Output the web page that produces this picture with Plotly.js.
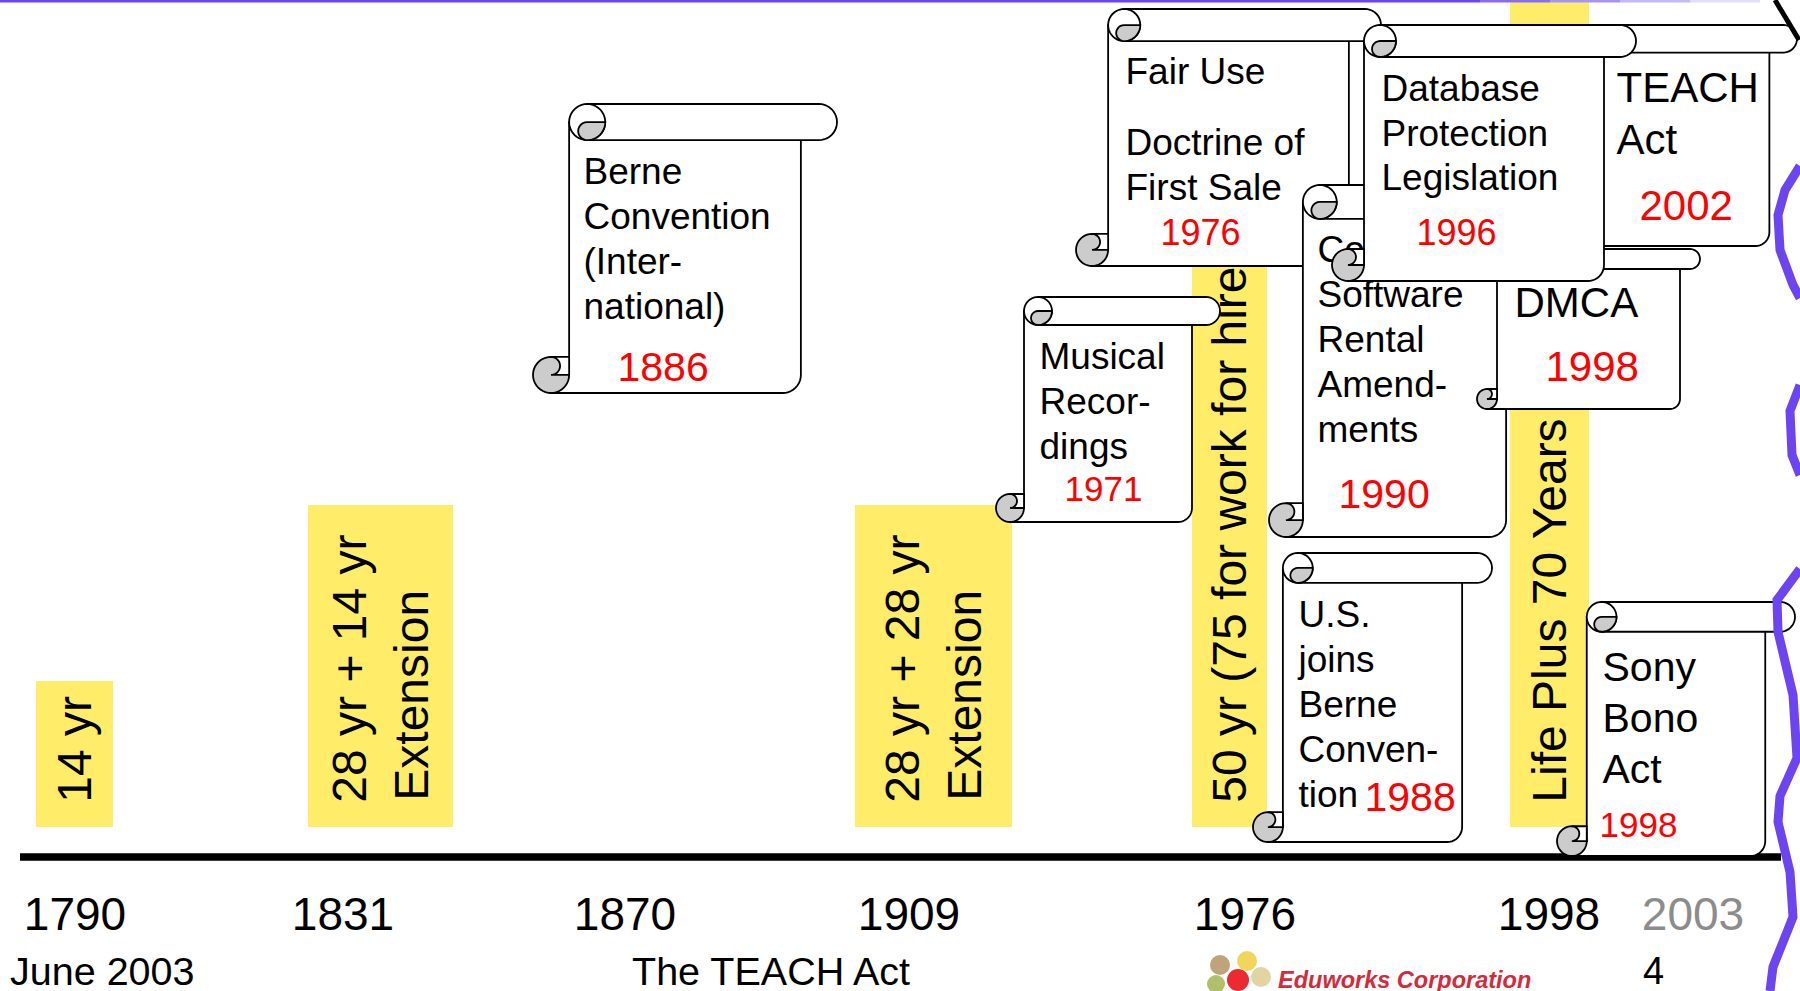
<!DOCTYPE html>
<html><head><meta charset="utf-8">
<script src="https://cdn.plot.ly/plotly-3.0.1.min.js"></script>
<style>html,body{margin:0;padding:0;background:#fff;overflow:hidden}#chart{width:1800px;height:991px}</style>
</head><body><div id="chart"></div>
<script>
// ---------------- data ----------------
const axisYears = [1790, 1831, 1870, 1909, 1976, 1998, 2003];
const termStartYears = [1790, 1831, 1909, 1976, 1998];
const termLabels = ["14 yr", "28 yr + 14 yr|Extension", "28 yr + 28 yr|Extension", "50 yr (75 for work for hire)", "Life Plus 70 Years"];
const eventNames = [
  ["Berne", "Convention", "(Inter-", "national)"],
  ["Musical", "Recor-", "dings"],
  ["Fair Use", "Doctrine of", "First Sale"],
  ["TEACH", "Act"],
  ["Computer", "Software", "Rental", "Amend-", "ments"],
  ["DMCA"],
  ["Database", "Protection", "Legislation"],
  ["U.S.", "joins", "Berne", "Conven-", "tion"],
  ["Sony", "Bono", "Act"]
];
const eventYears = [1886, 1971, 1976, 2002, 1990, 1998, 1996, 1988, 1998];
const footerLeft = "June 2003";
const footerTitle = "The TEACH Act";
const footerPage = "4";
const footerLogo = "Eduworks Corporation";

// ---------------- layout positions / styles (pixels) ----------------
const axisTickPos = [75, 343, 625, 909, 1245, 1549, 1693];
const termBarX = [74.5, 380.5, 933.5, 1229.5, 1549.5];
const termBarW = [77, 145, 157, 75, 79];
const termBarTop = [681, 505, 505, 30, 0];
const termBarBottom = 827;
const termPad = [0, 4, 4, 0, 0];
const scrollBox = [[533,104,837,393],[996,297,1220,522],[1076,9,1381,266],[1565,25,1797,246],[1269,185,1540,537],[1477,249,1700,409],[1332,25,1636,281],[1253,553,1492,842],[1557,602,1795,856]];
const textLeft = [584,1040,1126,1617,1318,1515,1382,1299,1603];
const textLineY = [[172,217,262,307],[357,402,447],[72,143,188],[88,140],[250,295,340,385,430],[303],[89,134,178],[615,660,705,750,795],[667,718,769]];
const textSize = [37,37,37,42,37,42,37,37,41];
const yearPos = [[618,367,41],[1065,490,35],[1161,234,36],[1640,206,42],[1339,494,41],[1546,367,42],[1417,234,36],[1365,797,41],[1600,826,35]];
const TEXT_DX = -3.5, TEXT_DY = -4.5;

const FONT = "Liberation Sans, Arial, sans-serif";
const INK = "#000000", PAPER = "#ffffff", CURL = "#cccccc", YELLOW = "#FFED6A", PURPLE = "#6d45f0", RED = "#ff0000";
const LW = 1.8;

// ---------------- helpers ----------------
function arc(cx, cy, r, a0, a1, n) {
  const pts = [];
  for (let i = 0; i <= n; i++) {
    const a = (a0 + (a1 - a0) * i / n) * Math.PI / 180;
    pts.push([cx + r * Math.cos(a), cy + r * Math.sin(a)]);
  }
  return pts;
}
function toPath(pts, close) {
  return "M" + pts.map(p => p[0].toFixed(2) + "," + p[1].toFixed(2)).join("L") + (close ? "Z" : "");
}
function shp(d, fill, width, color) {
  return {type: "path", xref: "x", yref: "y", path: d, fillcolor: fill || "rgba(0,0,0,0)",
          line: {color: color || INK, width: width == null ? LW : width}, layer: "above"};
}
function scrollShapes(box) {
  const [L, T, R, B] = box;
  const r = Math.min(R - L, B - T) / 16, bx0 = L + 2 * r, bx1 = R - 2 * r, cL = L + 3 * r;
  const out = [];
  let p = [[bx0, T + r], [bx0, B - r], [L + r, B - r], [L + r, B], [bx1 - r, B]]
    .concat(arc(bx1 - r, B - r, r, 90, 0, 10)).concat([[bx1, T + r]]);
  out.push(shp(toPath(p, true), PAPER));
  out.push(shp(toPath(arc(L + r, B - r, r, 0, 360, 40), true), CURL));
  p = [[L + r, B - 2 * r], [L + 2 * r, B - 2 * r], [L + 2 * r, B - r], [L + r, B - r]]
    .concat(arc(L + r, B - 1.5 * r, r / 2, 90, -90, 14));
  out.push(shp(toPath(p, true), PAPER));
  p = [[cL, T], [R - r, T]].concat(arc(R - r, T + r, r, -90, 90, 20))
    .concat([[cL, T + 2 * r]]).concat(arc(cL, T + r, r, 90, 270, 20));
  out.push(shp(toPath(p, true), PAPER));
  out.push(shp(toPath(arc(cL, T + r, r, -90, 90, 20), false)));
  p = [[cL, T + r], [cL + r, T + r]].concat(arc(cL, T + r, r, 0, 90, 12))
    .concat(arc(cL, T + 1.5 * r, r / 2, 90, 270, 12));
  out.push(shp(toPath(p, true), CURL));
  return out;
}
function textShape(x, y, text, size, color) {
  x += TEXT_DX; y += TEXT_DY;
  return {type: "rect", xref: "x", yref: "y", x0: x, x1: x + 2, y0: y - 1, y1: y + 1,
          line: {width: 0, color: "rgba(0,0,0,0)"}, fillcolor: "rgba(0,0,0,0)", layer: "above",
          label: {text: text, font: {family: FONT, size: size, color: color}, textposition: "middle left",
                  xanchor: "left", yanchor: "middle", padding: 0}};
}

// ---------------- shapes ----------------
const shapes = [];
// timeline
shapes.push({type: "line", xref: "x", yref: "y", x0: 20, x1: 1781, y0: 857, y1: 857, line: {color: INK, width: 7.5}, layer: "above"});
// scrolls with their texts, in stacking order
scrollBox.forEach((box, i) => {
  scrollShapes(box).forEach(s => shapes.push(s));
  eventNames[i].forEach((line, j) => shapes.push(textShape(textLeft[i], textLineY[i][j], line, textSize[i], INK)));
  shapes.push(textShape(yearPos[i][0], yearPos[i][1], String(eventYears[i]), yearPos[i][2], RED));
});
// top border (fading purple)
shapes.push(shp("M0,1L1480,1", null, 3, PURPLE));
const fade = ["#8a6cf2", "#a893f5", "#c6b8f8", "#e3dcfb"];
fade.forEach((c, k) => shapes.push(shp("M" + (1480 + k * 70) + ",1L" + (1480 + (k + 1) * 70) + ",1", null, 3, c)));
// right-edge decorative strokes
const squiggles = [
  [[1800,166],[1785,190],[1778,215],[1780,250],[1793,285],[1800,298]],
  [[1800,385],[1790,411],[1792,455],[1800,475]],
  [[1800,569],[1777,600],[1778,632],[1793,695],[1797,758],[1780,796],[1778,822],[1790,872],[1793,917],[1773,967],[1770,991]]
];
squiggles.forEach(sq => shapes.push(shp(toPath(sq, false), null, 9, PURPLE)));
shapes.push(shp("M1775,0L1799,40", null, 5, INK));
// logo mark
const petals = [[1220,965,10,"#b99a6a"],[1247,961,10,"#f0d24a"],[1216,984,9,"#a9b85a"],[1261,977,10,"#dccf98"],[1238,980,11,"#e8141c"]];
petals.forEach(([cx, cy, r, c]) => shapes.push({type: "circle", xref: "x", yref: "y", x0: cx - r, x1: cx + r, y0: cy - r, y1: cy + r,
  fillcolor: c, line: {width: 0}, opacity: 0.9, layer: "above"}));

// ---------------- traces ----------------
const NB = "\u00a0", SP6 = "\u2006";
const barText = termLabels.map((s, i) => s.split("|").map((l, j) => NB + SP6 + l + (j > 0 ? NB.repeat(termPad[i]) : "")).join("<br>"));
const bars = {
  type: "bar",
  x: termBarX,
  y: termBarTop.map(t => t - termBarBottom),
  base: termBarX.map(() => termBarBottom),
  width: termBarW,
  customdata: termStartYears,
  marker: {color: YELLOW, line: {width: 0}},
  text: barText,
  textposition: "inside",
  insidetextanchor: "start",
  textangle: -90,
  constraintext: "none",
  insidetextfont: {family: FONT, size: 48, color: INK},
  hoverinfo: "skip"
};

// ---------------- annotations ----------------
const annotations = [
  {xref: "x", yref: "y", x: 8, y: 971, text: footerLeft, xanchor: "left", yanchor: "middle", showarrow: false, font: {family: FONT, size: 39.5, color: INK}},
  {xref: "x", yref: "y", x: 630, y: 971, text: footerTitle, xanchor: "left", yanchor: "middle", showarrow: false, font: {family: FONT, size: 39.5, color: INK}},
  {xref: "x", yref: "y", x: 1653, y: 971, text: footerPage, xanchor: "center", yanchor: "middle", showarrow: false, font: {family: FONT, size: 38, color: INK}},
  {xref: "x", yref: "y", x: 1276, y: 980, text: "<b><i>" + footerLogo + "</i></b>", xanchor: "left", yanchor: "middle", showarrow: false, font: {family: FONT, size: 23.5, color: "#d42a3a"}}
];

const layout = {
  width: 1800, height: 991,
  margin: {l: 0, r: 0, t: 0, b: 0, pad: 0},
  paper_bgcolor: "#ffffff", plot_bgcolor: "#ffffff",
  showlegend: false, barmode: "overlay",
  xaxis: {range: [0, 1800], domain: [0, 1], anchor: "free", position: 0.109, showline: false, showgrid: false, zeroline: false,
          ticks: "", tickmode: "array", tickvals: axisTickPos,
          ticktext: axisYears.map(y => y === 2003 ? '<span style="color:#8c8c8c">' + y + '</span>' : String(y)),
          tickfont: {family: FONT, size: 46, color: INK}, fixedrange: true},
  yaxis: {range: [991, 0], domain: [0, 1], visible: false, showgrid: false, zeroline: false, fixedrange: true},
  shapes: shapes,
  annotations: annotations
};

Plotly.newPlot("chart", [bars], layout, {displayModeBar: false, staticPlot: true});
</script>
</body></html>
